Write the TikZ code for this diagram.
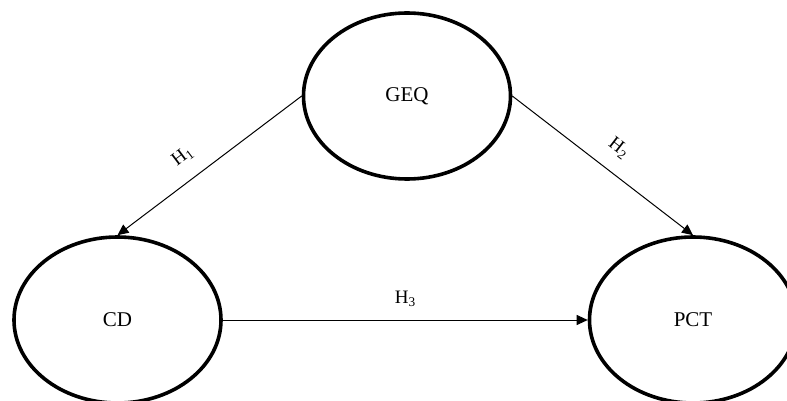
\documentclass[tikz,border=0pt]{standalone}
\usepackage{fontspec}
\setmainfont{Liberation Serif}
\usetikzlibrary{arrows.meta,shapes.geometric}
\begin{document}
\begin{tikzpicture}[x=1pt,y=-1pt,
  construct/.style={draw, line width=3.6pt, ellipse, minimum width=207pt, minimum height=166pt, inner sep=0pt, font=\fontsize{21}{25}\selectfont},
  path/.style={draw, line width=1pt, -{Triangle[length=11pt,width=10pt]}},
  hlabel/.style={font=\fontsize{19}{22}\selectfont, sloped, above, yshift=12pt}]
\useasboundingbox (0,0) rectangle (787,401);
\node[construct] (geq) at (407,96) {GEQ};
\node[construct] (cd) at (117.5,320) {CD};
\node[construct] (pct) at (693,320) {PCT};
\draw[path] (geq.west) -- node[hlabel, pos=0.57] {H\textsubscript{1}} (cd.north);
\draw[path] (geq.east) -- node[hlabel, pos=0.51] {H\textsubscript{2}} (pct.north);
\draw[path] (cd.east) -- node[hlabel, pos=0.5, yshift=-2pt] {H\textsubscript{3}} (pct.west);
\end{tikzpicture}
\end{document}
